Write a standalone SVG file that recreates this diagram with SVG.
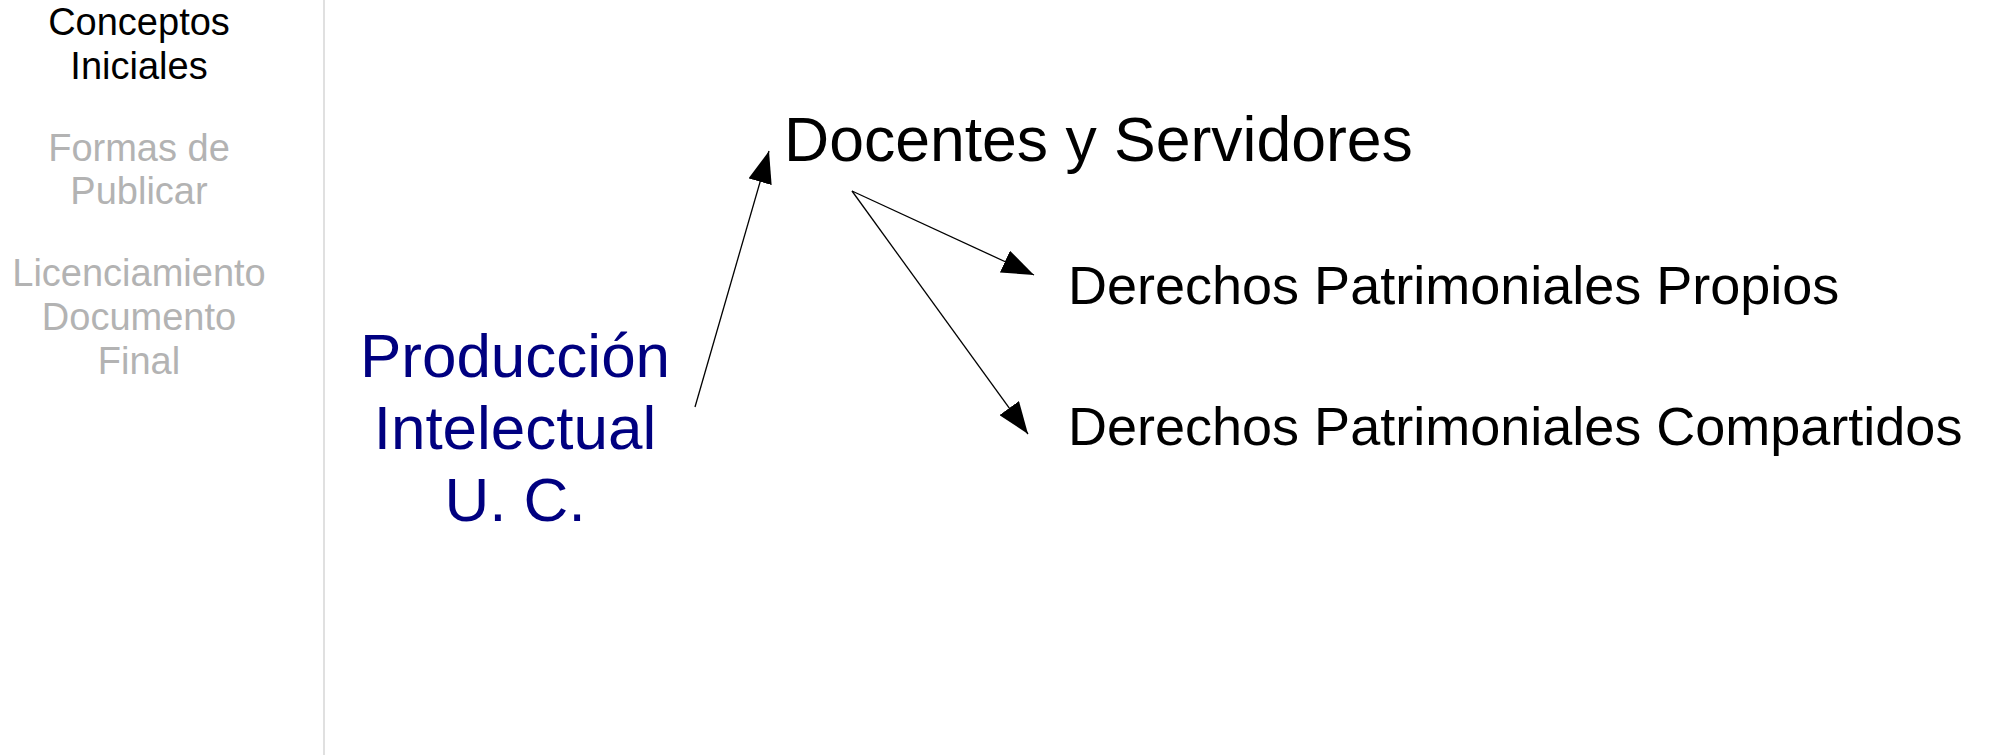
<svg xmlns="http://www.w3.org/2000/svg" width="1992" height="755" viewBox="0 0 1992 755">
<style>
text{font-family:"Liberation Sans",Arial,sans-serif;}
.nav{font-size:38px;text-anchor:middle;fill:#b3b3b3;}
.nav.on{fill:#000000;}
.big{font-size:62.5px;fill:#000000;}
.mid{font-size:54px;fill:#000000;}
.main{font-size:62px;fill:#000080;text-anchor:middle;}
.conn{stroke:#000000;stroke-width:1.3;fill:none;marker-end:url(#ah);}
</style>
<defs>
<marker id="ah" viewBox="0 0 32 24" refX="32" refY="12" markerWidth="32" markerHeight="24" markerUnits="userSpaceOnUse" orient="auto">
<path d="M0,0 L32,12 L0,24 z" fill="#000000"/>
</marker>
</defs>
<rect x="0" y="0" width="1992" height="755" fill="#ffffff"/>
<line x1="324" y1="0" x2="324" y2="755" stroke="#e0e0e0" stroke-width="2"/>
<g id="nav1"><text class="nav on" x="139" y="35">Conceptos</text><text class="nav on" x="139" y="79">Iniciales</text></g>
<g id="nav2"><text class="nav" x="139" y="161">Formas de</text><text class="nav" x="139" y="204">Publicar</text></g>
<g id="nav3"><text class="nav" x="139" y="286">Licenciamiento</text><text class="nav" x="139" y="330">Documento</text><text class="nav" x="139" y="374">Final</text></g>
<g id="produccion"><text class="main" x="515" y="377">Producción</text><text class="main" x="515" y="449">Intelectual</text><text class="main" x="515" y="521">U. C.</text></g>
<g id="docentes"><text class="big" x="784" y="161">Docentes y Servidores</text></g>
<g id="propios"><text class="mid" x="1068" y="304">Derechos Patrimoniales Propios</text></g>
<g id="compartidos"><text class="mid" x="1068" y="445">Derechos Patrimoniales Compartidos</text></g>
<g id="connectors">
<line class="conn" x1="695" y1="407" x2="769" y2="151"/>
<line class="conn" x1="852" y1="191" x2="1034" y2="275"/>
<line class="conn" x1="852" y1="191" x2="1028" y2="434"/>
</g>
</svg>
